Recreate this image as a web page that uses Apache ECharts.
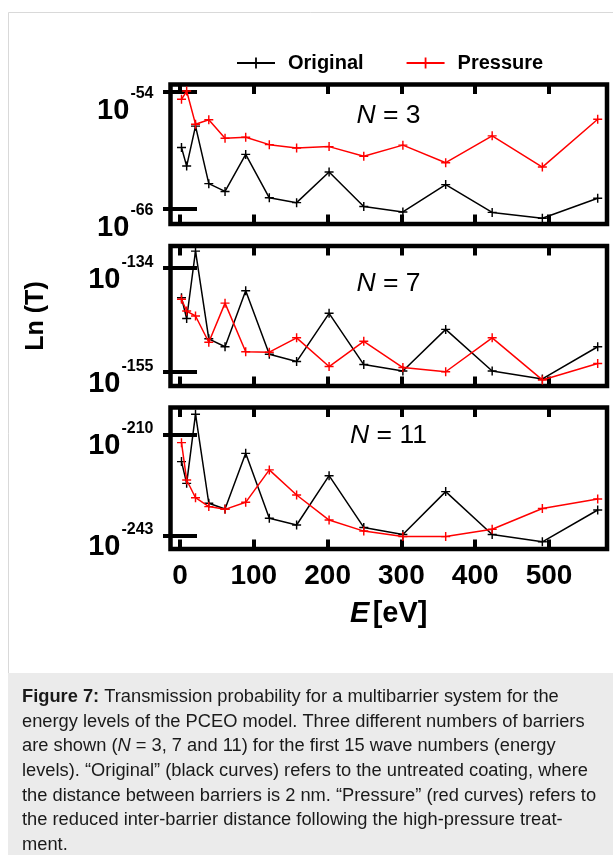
<!DOCTYPE html>
<html><head><meta charset="utf-8">
<script src="https://cdn.jsdelivr.net/npm/echarts@6/dist/echarts.min.js"></script>
<style>html,body{margin:0;padding:0;background:#fff}#c{width:613px;height:855px}</style>
</head><body><div id="c"></div>
<script>
// Energy levels E [eV] (x values)
const energy = [2, 9, 21, 39, 61, 89, 121, 158, 202, 249, 302, 360, 423, 491, 566];
// log10(T) exponents
const original3 = [-59.7, -61.6, -57.5, -63.4, -64.2, -60.4, -64.85, -65.35, -62.2, -65.75, -66.3, -63.5, -66.35, -66.95, -64.9];
const pressure3 = [-54.75, -53.9, -57.3, -56.85, -58.75, -58.65, -59.4, -59.75, -59.6, -60.6, -59.45, -61.25, -58.5, -61.7, -56.8];
const original7 = [-140.0, -144.2, -130.6, -148.3, -149.9, -138.6, -151.4, -152.9, -143.15, -153.5, -154.8, -146.4, -154.8, -156.4, -149.9];
const pressure7 = [-140.3, -142.7, -143.7, -149.0, -141.1, -150.9, -151.0, -148.1, -153.9, -148.8, -154.1, -154.95, -148.1, -156.6, -153.3];
const original11 = [-218.7, -225.8, -203.2, -232.3, -234.2, -216.0, -237.2, -239.4, -223.3, -240.2, -242.5, -228.5, -242.5, -244.9, -234.5];
const pressure11 = [-212.5, -224.7, -230.5, -233.4, -234.3, -232.0, -221.4, -229.6, -237.8, -241.4, -243.2, -243.2, -240.8, -234.0, -230.9];
const xTicks = [0, 100, 200, 300, 400, 500];
const yTicks = [[-54, -66], [-134, -155], [-210, -243]];
const yRanges = [[-67.54, -53.23], [-157.83, -129.56], [-247.25, -201.02]];
const panelLabels = ['3', '7', '11'];
const seriesOriginal = [original3, original7, original11];
const seriesPressure = [pressure3, pressure7, pressure11];

const FONT = 'Liberation Sans';
const CROSS = 'path://M0,4.2h10v1.6h-10z M4.2,0h1.6v10h-1.6z';
const grids = [
  {left: 170.5, top: 84.5, width: 436.5, height: 139.5},
  {left: 170.5, top: 246, width: 436.5, height: 140},
  {left: 170.5, top: 407.5, width: 436.5, height: 141.5}
];
const labelShift = [38, 24, 22];
const xMin = -12.9, xMax = 578.6;

const xAxes = [], yAxes = [], series = [];
grids.forEach((g, i) => {
  const tickX = {show: true, inside: true, length: 9.5, customValues: xTicks, lineStyle: {color: '#000', width: 4}};
  const tickY = {show: true, inside: true, length: 17, customValues: yTicks[i], lineStyle: {color: '#000', width: 4}};
  xAxes.push({
    type: 'value', gridIndex: i, position: 'bottom', min: xMin, max: xMax,
    axisLine: {show: false}, axisTick: tickX, splitLine: {show: false},
    axisLabel: {show: i === 2, customValues: xTicks, margin: 13, color: '#000', fontFamily: FONT, fontWeight: 'bold', fontSize: 28},
    name: i === 2 ? '{i|E} {n|[eV]}' : '', nameLocation: 'middle', nameGap: 50,
    nameTextStyle: {rich: {
      i: {fontFamily: FONT, fontWeight: 'bold', fontStyle: 'italic', fontSize: 29, color: '#000'},
      n: {fontFamily: FONT, fontWeight: 'bold', fontSize: 29, color: '#000'}
    }}
  });
  xAxes.push({
    type: 'value', gridIndex: i, position: 'top', min: xMin, max: xMax,
    axisLine: {show: false}, axisTick: tickX, splitLine: {show: false}, axisLabel: {show: false}
  });
  yAxes.push({
    type: 'value', gridIndex: i, position: 'left', min: yRanges[i][0], max: yRanges[i][1],
    axisLine: {show: false}, axisTick: tickY, splitLine: {show: false},
    axisLabel: {
      customValues: yTicks[i], margin: 17, padding: [labelShift[i], 0, 0, 0],
      formatter: v => '{b|10}{s|' + Math.round(v) + '}',
      rich: {
        b: {fontFamily: FONT, fontWeight: 'bold', fontSize: 29, lineHeight: 29, color: '#000'},
        s: {fontFamily: FONT, fontWeight: 'bold', fontSize: 16, lineHeight: 16, color: '#000', padding: [0, 0, 34, 1]}
      }
    },
    name: i === 1 ? 'Ln (T)' : '', nameLocation: 'middle', nameGap: 122, nameRotate: 90,
    nameTextStyle: {fontFamily: FONT, fontWeight: 'bold', fontSize: 25, color: '#000'}
  });
  yAxes.push({
    type: 'value', gridIndex: i, position: 'right', min: yRanges[i][0], max: yRanges[i][1],
    axisLine: {show: false}, axisTick: tickY, splitLine: {show: false}, axisLabel: {show: false}
  });
  [['Original', seriesOriginal[i], '#000000'], ['Pressure', seriesPressure[i], '#ff0000']].forEach(([nm, arr, col]) => {
    series.push({
      type: 'line', name: nm, xAxisIndex: i * 2, yAxisIndex: i * 2,
      data: energy.map((e, k) => [e, arr[k]]),
      symbol: CROSS, symbolSize: 9, showSymbol: true,
      lineStyle: {color: col, width: 1.5}, itemStyle: {color: col},
      z: nm === 'Original' ? 3 : 4
    });
  });
});

const captionText =
  '{b|Figure 7:} Transmission probability for a multibarrier system for the\n' +
  'energy levels of the PCEO model. Three different numbers of barriers\n' +
  'are shown ({i|N} = 3, 7 and 11) for the first 15 wave numbers (energy\n' +
  'levels). \u201COriginal\u201D (black curves) refers to the untreated coating, where\n' +
  'the distance between barriers is 2 nm. \u201CPressure\u201D (red curves) refers to\n' +
  'the reduced inter-barrier distance following the high-pressure treat-\n' +
  'ment.';

const CAP = 18.3;
const graphic = [
  {type: 'polyline', shape: {points: [[8.5, 855], [8.5, 12.5], [613, 12.5]]}, style: {stroke: '#d9d9d9', lineWidth: 1, fill: null}, silent: true},
  {type: 'rect', shape: {x: 8, y: 673, width: 605, height: 182}, style: {fill: '#ebebeb'}, silent: true},
  {type: 'text', left: 22, top: 684.5, style: {
    text: captionText, fontFamily: FONT, fontSize: CAP, lineHeight: 24.7, fill: '#1a1a1a',
    rich: {
      b: {fontFamily: FONT, fontWeight: 'bold', fontSize: CAP, lineHeight: 24.7, fill: '#1a1a1a'},
      i: {fontFamily: FONT, fontStyle: 'italic', fontSize: CAP, lineHeight: 24.7, fill: '#1a1a1a'}
    }
  }, silent: true}
];
const labelY = [116, 284, 436];
panelLabels.forEach((t, i) => {
  graphic.push({type: 'text', x: 388.5, y: labelY[i], style: {
    text: '{i|N} = ' + t, fontFamily: FONT, fontSize: 26.5, fill: '#000', align: 'center', verticalAlign: 'middle',
    rich: {i: {fontFamily: FONT, fontStyle: 'italic', fontSize: 26.5, fill: '#000'}}
  }, silent: true});
});

const chart = echarts.init(document.getElementById('c'), null, {renderer: 'canvas'});
chart.setOption({
  animation: false,
  backgroundColor: '#ffffff',
  legend: {
    data: ['Original', 'Pressure'], left: 231, top: 48, itemWidth: 38, itemHeight: 14, itemGap: 42,
    textStyle: {fontFamily: FONT, fontWeight: 'bold', fontSize: 20, color: '#000', padding: [0, 0, 0, 8]}
  },
  grid: grids.map(g => Object.assign({show: true, borderColor: '#000', borderWidth: 4.5, backgroundColor: 'transparent', containLabel: false}, g)),
  xAxis: xAxes, yAxis: yAxes, series: series, graphic: graphic
});
</script></body></html>
